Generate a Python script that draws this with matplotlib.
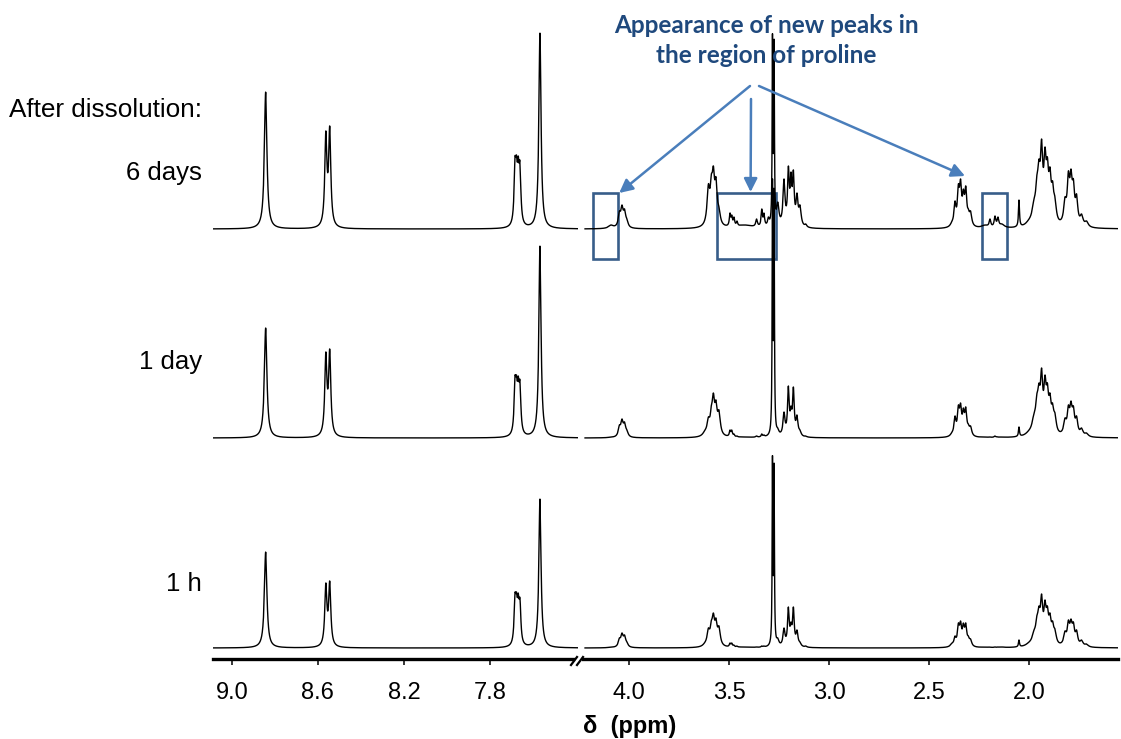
import numpy as np
import matplotlib.pyplot as plt
from matplotlib.lines import Line2D
from matplotlib.patches import Rectangle

plt.rcParams['font.family'] = ['Liberation Sans', 'DejaVu Sans']

# aromatic region: peak position (ppm), half width (ppm), peak heights
left_ppm = [8.843, 8.563, 8.545, 7.683, 7.676, 7.668, 7.660, 7.567]
left_hw = [0.007, 0.006, 0.006, 0.005, 0.005, 0.005, 0.005, 0.006]
left_6d = [137, 98, 103, 72, 74, 73, 68, 196]
left_1d = [110, 86, 89, 62, 63, 62, 58, 192]
left_1h = [96, 65, 67, 55, 56, 55, 50, 149]

# aliphatic region
right_ppm = [4.090, 4.048, 4.035, 4.022, 4.010,
             3.620, 3.603, 3.588, 3.578, 3.565, 3.550,
             3.495, 3.486, 3.475, 3.460, 3.420, 3.362, 3.336, 3.325, 3.303,
             3.2825, 3.2745,
             3.256, 3.225, 3.203, 3.190, 3.178, 3.160, 3.145, 3.116,
             2.385, 2.370, 2.353, 2.342, 2.328, 2.316, 2.303, 2.292,
             2.220, 2.195, 2.170, 2.155, 2.135,
             2.050,
             2.000, 1.975, 1.960, 1.950, 1.937, 1.920, 1.908, 1.895, 1.882, 1.870,
             1.820, 1.803, 1.790, 1.778, 1.762, 1.737, 1.712]
right_hw = [0.015, 0.007, 0.007, 0.007, 0.007,
            0.014, 0.008, 0.007, 0.007, 0.007, 0.008,
            0.004, 0.004, 0.004, 0.004, 0.050, 0.005, 0.004, 0.004, 0.005,
            0.002, 0.002,
            0.007, 0.006, 0.005, 0.005, 0.005, 0.006, 0.007, 0.006,
            0.010, 0.006, 0.006, 0.006, 0.006, 0.006, 0.006, 0.007,
            0.020, 0.005, 0.005, 0.005, 0.015,
            0.003,
            0.022, 0.012, 0.008, 0.007, 0.007, 0.007, 0.007, 0.007, 0.007, 0.008,
            0.008, 0.007, 0.007, 0.007, 0.007, 0.009, 0.010]
right_6d = [4, 18, 24, 20, 10,
            10, 45, 55, 63, 52, 22,
            16, 14, 12, 8, 4, 10, 20, 16, 12,
            196, 190,
            27, 50, 63, 57, 59, 36, 24, 5,
            8, 28, 45, 50, 40, 43, 20, 18,
            4, 10, 13, 12, 5,
            29,
            10, 30, 55, 70, 90, 82, 72, 62, 48, 32,
            32, 58, 60, 50, 35, 15, 8]
right_1d = [1, 13, 19, 16, 8,
            8, 21, 33, 45, 38, 28,
            8, 8, 4, 2, 1, 2, 4, 3, 3,
            260, 250,
            10, 26, 52, 32, 51, 23, 8, 2,
            6, 22, 33, 35, 30, 31, 14, 12,
            1, 1, 2, 1, 1,
            11,
            8, 25, 45, 55, 70, 63, 55, 45, 35, 25,
            20, 33, 37, 32, 22, 10, 5]
right_1h = [1, 10, 15, 13, 6,
            6, 20, 28, 35, 30, 22,
            5, 5, 3, 2, 1, 1, 2, 2, 2,
            193, 185,
            10, 20, 41, 26, 41, 18, 6, 2,
            5, 12, 25, 27, 25, 25, 12, 9,
            1, 1, 1, 1, 1,
            8,
            6, 18, 33, 42, 54, 48, 42, 35, 27, 19,
            17, 28, 29, 26, 18, 8, 4]

labels = ["6 days", "1 day", "1 h"]
offsets = [419, 210, 0]
left_sets = [left_6d, left_1d, left_1h]
right_sets = [right_6d, right_1d, right_1h]

left_ticks = [9.0, 8.6, 8.2, 7.8]
right_ticks = [4.0, 3.5, 3.0, 2.5, 2.0]


def spectrum(x, ppm, hw, heights):
    ppm = np.array(ppm)
    hw = np.array(hw)
    m = 1.0 / (1.0 + ((ppm[:, None] - ppm[None, :]) / hw[None, :]) ** 2)
    amp = np.clip(np.linalg.solve(m, np.array(heights, float)), 0, None)
    return (amp[None, :] / (1.0 + ((x[:, None] - ppm[None, :]) / hw[None, :]) ** 2)).sum(axis=1)


W, H = 1121, 739
fig = plt.figure(figsize=(W / 100, H / 100), dpi=100)
ax_l = fig.add_axes([213 / W, 80 / H, 365 / W, 659 / H])
ax_r = fig.add_axes([583 / W, 80 / H, 535 / W, 659 / H])

x_l = np.arange(7.39, 9.088, 0.0004)
x_r = np.arange(1.555, 4.22, 0.0004)
for off, hl, hr in zip(offsets, left_sets, right_sets):
    ax_l.plot(x_l, spectrum(x_l, left_ppm, left_hw, hl) + off, color='black', lw=1.0)
    ax_r.plot(x_r, spectrum(x_r, right_ppm, right_hw, hr) + off, color='black', lw=1.0)

ax_l.set_xlim(9.088, 7.39)
ax_r.set_xlim(4.23, 1.555)
for ax, ticks in [(ax_l, left_ticks), (ax_r, right_ticks)]:
    ax.set_ylim(-11, 648)
    ax.patch.set_visible(False)
    for s in ['left', 'right', 'top']:
        ax.spines[s].set_visible(False)
    ax.spines['bottom'].set_linewidth(2.4)
    ax.yaxis.set_visible(False)
    ax.set_xticks(ticks)
    ax.set_xticklabels([f"{t:.1f}" for t in ticks])
    ax.tick_params(axis='x', direction='out', length=4.5, width=1.1, pad=12, labelsize=17)
ax_l.spines['bottom'].set_bounds(9.088, 7.414)

# axis break marks
for x0 in [571, 577]:
    fig.add_artist(Line2D([x0 / W, (x0 + 6) / W], [(H - 665) / H, (H - 657) / H],
                          color='black', lw=1.6))

# row labels
fig.text(202 / W, 1 - 117 / H, "After dissolution:", ha='right', va='baseline', fontsize=18.8)
for lab, yb in zip(labels, [180, 369, 591]):
    fig.text(202 / W, 1 - yb / H, lab, ha='right', va='baseline', fontsize=18.5)

fig.text(630 / W, 1 - 733 / H, "δ  (ppm)", ha='center', va='baseline', fontsize=17,
         fontweight='bold')

# annotation
txt_kw = dict(ha='center', va='baseline', fontsize=17.5, fontweight='bold', color='#1f497d',
              family=['Lato', 'DejaVu Sans'])
fig.text(766.5 / W, 1 - 33 / H, "Appearance of new peaks in", **txt_kw)
fig.text(766.5 / W, 1 - 63 / H, "the region of proline", **txt_kw)

box_color = '#385d8a'
for x0, x1 in [(4.18, 4.055), (3.56, 3.265), (2.235, 2.11)]:
    ax_r.add_patch(Rectangle((x1, 389), x0 - x1, 66, fill=False, ec=box_color, lw=1.9,
                             clip_on=False))

arrow_kw = dict(arrowstyle='-|>,head_length=0.8,head_width=0.4', color='#4a7ebb', lw=1.8,
                shrinkA=0, shrinkB=0)
for tip, start in [((4.049, 455), (750, H - 86)), ((3.392, 456), (751, H - 99)),
                   ((2.32, 472), (759, H - 86))]:
    ax_r.annotate("", xy=tip, xycoords='data', xytext=start, textcoords='figure pixels',
                  arrowprops=arrow_kw, annotation_clip=False)

fig.savefig("out.png", dpi=100)
